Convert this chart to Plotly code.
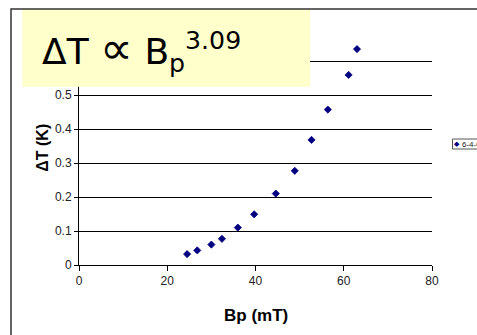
import plotly.graph_objects as go

# Data
bp_mT = [24.5, 26.8, 30.0, 32.4, 36.0, 39.7, 44.6, 48.9, 52.7, 56.4, 61.1, 63.0]
delta_T_K = [0.032, 0.043, 0.060, 0.077, 0.110, 0.149, 0.210, 0.277, 0.368, 0.457, 0.559, 0.635]
series_name = "6-4-06"
x_ticks = [0, 20, 40, 60, 80]
y_ticks = [0, 0.1, 0.2, 0.3, 0.4, 0.5, 0.6, 0.7]
y_tick_labels = ["0", "0.1", "0.2", "0.3", "0.4", "0.5", "", ""]  # 0.6/0.7 hidden under the formula box

W, H = 477, 335
L, R, T, B = 79, 45, 27, 70
PW, PH = W - L - R, H - T - B


def px_x(p):
    return (p - L) / PW


def px_y(p):
    return (H - B - p) / PH


fig = go.Figure()
fig.add_trace(go.Scatter(
    x=bp_mT, y=delta_T_K, mode="markers", name=series_name,
    marker=dict(symbol="diamond", size=5.5, color="#000080",
                line=dict(width=0.8, color="#000080")),
    showlegend=False, cliponaxis=False,
))

fig.update_layout(
    width=W, height=H,
    margin=dict(l=L, r=R, t=T, b=B, pad=0),
    paper_bgcolor="white", plot_bgcolor="white",
    font=dict(family="Liberation Sans, Arial, sans-serif", color="#222", size=12),
    xaxis=dict(range=[0, 80], tickvals=x_ticks, showgrid=False, zeroline=False,
               showline=True, linecolor="black", linewidth=1,
               ticks="outside", ticklen=5, tickcolor="black",
               tickfont=dict(size=12, color="#222")),
    yaxis=dict(range=[0, 0.7], tickvals=y_ticks, ticktext=y_tick_labels,
               showgrid=True, gridcolor="black", gridwidth=1, zeroline=False,
               showline=True, linecolor="black", linewidth=1,
               ticks="outside", ticklen=4, tickcolor="black",
               tickfont=dict(size=12, color="#222")),
    shapes=[
        dict(type="rect", xref="paper", yref="paper", layer="above",
             x0=px_x(22.3), x1=px_x(310), y0=px_y(86.7), y1=px_y(9),
             fillcolor="#FFFFCC", line=dict(width=0)),
        dict(type="rect", xref="paper", yref="paper", layer="above",
             x0=px_x(11), x1=px_x(W + 30), y0=px_y(H + 30), y1=px_y(9),
             fillcolor="rgba(0,0,0,0)", line=dict(width=1.5, color="#333")),
        dict(type="rect", xref="paper", yref="paper", layer="above",
             x0=px_x(452.5), x1=px_x(W + 30), y0=px_y(149), y1=px_y(139),
             fillcolor="white", line=dict(width=1, color="#555")),
    ],
    annotations=[
        dict(text="ΔT <span style='font-size:46px'>∝</span> B<sub>p</sub><sup>3.09</sup>",
             xref="paper", yref="paper",
             x=px_x(40), y=px_y(49), xanchor="left", yanchor="middle",
             showarrow=False, font=dict(family="DejaVu Sans", size=36, color="black")),
        dict(text="<b>Bp (mT)</b>", xref="paper", yref="paper",
             x=px_x(256), y=px_y(315), xanchor="center", yanchor="middle",
             showarrow=False, font=dict(size=17, color="black")),
        dict(text="<b>ΔT (K)</b>", xref="paper", yref="paper", textangle=-90,
             x=px_x(41.7), y=px_y(148), xanchor="center", yanchor="middle",
             showarrow=False, font=dict(size=16, color="black")),
        dict(text="◆", xref="paper", yref="paper",
             x=px_x(456.7), y=px_y(144), xanchor="center", yanchor="middle",
             showarrow=False, font=dict(family="DejaVu Sans", size=7, color="#000080")),
        dict(text=series_name, xref="paper", yref="paper",
             x=px_x(460), y=px_y(144), xanchor="left", yanchor="middle",
             showarrow=False, font=dict(size=8, color="#222")),
    ],
)

fig.write_html("out.html", config={"displayModeBar": False},
               post_script="document.body.style.margin='0';document.body.style.overflow='hidden';")
